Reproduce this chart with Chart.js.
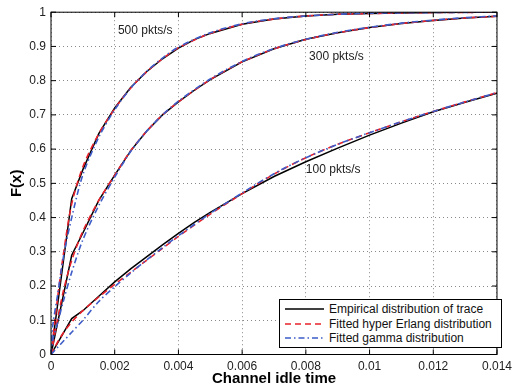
<!DOCTYPE html>
<html>
<head>
<meta charset="utf-8">
<script src="https://cdn.jsdelivr.net/npm/chart.js@4"></script>
<style>
  html, body { margin: 0; padding: 0; background: #fff; }
  #wrap { position: relative; width: 517px; height: 386px; }
  #legend { position: absolute; left: 279px; top: 299px; width: 221px; height: 47px;
    border: 1px solid #000; background: #fff; font: 12px "Liberation Sans", Arial, sans-serif; color: #111; }
  #legend .row { display: flex; align-items: center; height: 14.6px; margin-left: 5px; }
  #legend .row:first-child { margin-top: 2px; }
  #legend svg { width: 39px; height: 6px; margin-right: 5px; }
</style>
</head>
<body>
<div id="wrap">
  <canvas id="cdf" width="517" height="386"></canvas>
  <div id="legend"></div>
</div>
<script>
// ---- data ----
const seriesNames = ['Empirical distribution of trace', 'Fitted hyper Erlang distribution', 'Fitted gamma distribution'];
const rateLabels = ['500 pkts/s', '300 pkts/s', '100 pkts/s'];
const xTickLabels = ['0', '0.002', '0.004', '0.006', '0.008', '0.01', '0.012', '0.014'];
const yTickLabels = ['0', '0.1', '0.2', '0.3', '0.4', '0.5', '0.6', '0.7', '0.8', '0.9', '1'];

// empirical CDF samples (idle time in s)
const xEmp = [0, 0.00065, 0.001, 0.0015, 0.002, 0.0025, 0.003, 0.0035, 0.004, 0.0045, 0.005, 0.006, 0.007, 0.008, 0.009, 0.01, 0.011, 0.012, 0.013, 0.014];
const emp500 = [0, 0.455, 0.54, 0.645, 0.72, 0.78, 0.826, 0.864, 0.895, 0.92, 0.938, 0.965, 0.98, 0.989, 0.994, 0.996, 0.998, 0.999, 0.9995, 1.0];
const emp300 = [0, 0.29, 0.355, 0.45, 0.524, 0.595, 0.652, 0.70, 0.738, 0.772, 0.803, 0.855, 0.893, 0.921, 0.94, 0.955, 0.967, 0.976, 0.983, 0.988];
const emp100 = [0, 0.105, 0.128, 0.17, 0.212, 0.25, 0.285, 0.32, 0.354, 0.386, 0.415, 0.47, 0.52, 0.563, 0.603, 0.641, 0.676, 0.709, 0.737, 0.763];

// fitted CDFs
const xFit = [0, 0.00005, 0.0002, 0.0004, 0.00065, 0.001, 0.0015, 0.002, 0.0025, 0.003, 0.0035, 0.004, 0.005, 0.006, 0.007, 0.008, 0.009, 0.01, 0.011, 0.012, 0.013, 0.014];
const erl500 = [0, 0.04, 0.16, 0.3, 0.44, 0.548, 0.645, 0.718, 0.778, 0.826, 0.864, 0.896, 0.938, 0.965, 0.98, 0.989, 0.994, 0.996, 0.998, 0.999, 0.9995, 1.0];
const gam500 = [0, 0.08, 0.17, 0.29, 0.4, 0.525, 0.635, 0.715, 0.778, 0.827, 0.866, 0.898, 0.94, 0.966, 0.981, 0.989, 0.994, 0.997, 0.998, 0.999, 0.9995, 1.0];
const erl300 = [0, 0.025, 0.1, 0.19, 0.275, 0.36, 0.45, 0.524, 0.595, 0.652, 0.70, 0.738, 0.803, 0.855, 0.893, 0.92, 0.94, 0.955, 0.967, 0.976, 0.983, 0.988];
const gam300 = [0, 0.04, 0.09, 0.16, 0.24, 0.335, 0.435, 0.518, 0.593, 0.652, 0.70, 0.74, 0.805, 0.856, 0.894, 0.921, 0.941, 0.956, 0.968, 0.977, 0.984, 0.989];
const erl100 = [0, 0.008, 0.035, 0.065, 0.095, 0.128, 0.168, 0.205, 0.24, 0.275, 0.31, 0.345, 0.41, 0.47, 0.527, 0.575, 0.614, 0.648, 0.68, 0.71, 0.738, 0.765];
const gam100 = [0, 0.005, 0.02, 0.04, 0.065, 0.1, 0.155, 0.198, 0.238, 0.276, 0.312, 0.347, 0.412, 0.472, 0.528, 0.575, 0.614, 0.648, 0.68, 0.71, 0.738, 0.765];

// ---- styles ----
const FONT = '"Liberation Sans", Arial, sans-serif';
const STYLES = [
  { color: '#000000', dash: [], width: 1.5, order: 3, tension: 0 },
  { color: '#e8202a', dash: [6, 4], width: 1.6, order: 2, tension: 0.3 },
  { color: '#3d5cc8', dash: [6, 3, 1.5, 3], width: 1.6, order: 1, tension: 0.3 }
];
Chart.defaults.font.family = FONT;
Chart.defaults.color = '#222';

const pts = (xs, ys) => xs.map((x, i) => ({ x, y: ys[i] }));
function line(kind, xs, ys) {
  const s = STYLES[kind];
  return { label: seriesNames[kind], data: pts(xs, ys), borderColor: s.color, borderDash: s.dash,
    borderWidth: s.width, order: s.order, tension: s.tension, pointRadius: 0, fill: false };
}

const datasets = [
  line(0, xEmp, emp500), line(0, xEmp, emp300), line(0, xEmp, emp100),
  line(1, xFit, erl500), line(1, xFit, erl300), line(1, xFit, erl100),
  line(2, xFit, gam500), line(2, xFit, gam300), line(2, xFit, gam100)
];

// frame with inward ticks on all four sides + rate annotations
const framePlugin = {
  id: 'frame',
  afterDatasetsDraw(chart) {
    const { ctx, chartArea: a, scales: { x, y } } = chart;
    ctx.save();
    ctx.font = '12px ' + FONT;
    ctx.fillStyle = '#222';
    ctx.textBaseline = 'middle';
    const notes = [[0.0021, 0.947], [0.0081, 0.869], [0.008, 0.539]];
    notes.forEach((p, i) => ctx.fillText(rateLabels[i], x.getPixelForValue(p[0]), y.getPixelForValue(p[1])));
    ctx.strokeStyle = '#000';
    ctx.lineWidth = 1;
    ctx.setLineDash([]);
    ctx.strokeRect(a.left, a.top, a.right - a.left, a.bottom - a.top);
    ctx.beginPath();
    x.ticks.forEach(t => {
      const px = x.getPixelForValue(t.value);
      ctx.moveTo(px, a.bottom); ctx.lineTo(px, a.bottom - 5);
      ctx.moveTo(px, a.top); ctx.lineTo(px, a.top + 5);
    });
    y.ticks.forEach(t => {
      const py = y.getPixelForValue(t.value);
      ctx.moveTo(a.left, py); ctx.lineTo(a.left + 5, py);
      ctx.moveTo(a.right, py); ctx.lineTo(a.right - 5, py);
    });
    ctx.stroke();
    ctx.restore();
  }
};

const GRID = { color: '#8a8a8a', lineWidth: 1, drawTicks: false, tickLength: 0 };

const chart = new Chart(document.getElementById('cdf'), {
  type: 'line',
  data: { datasets },
  options: {
    responsive: false, animation: false, events: [],
    layout: { padding: { top: 12, right: 13, left: 0, bottom: 0 } },
    plugins: { legend: { display: false }, tooltip: { enabled: false } },
    scales: {
      x: {
        type: 'linear', min: 0, max: 0.014,
        grid: GRID, border: { display: false, dash: [1, 3] },
        ticks: { stepSize: 0.002, autoSkip: false, maxRotation: 0, padding: 5, font: { size: 12 },
          callback: (v, i) => xTickLabels[i] },
        title: { display: true, text: 'Channel idle time', color: '#000',
          font: { size: 15, weight: 'bold', lineHeight: 1 }, padding: { top: 0, bottom: 0 } },
        afterFit: s => { s.height = 31.5; }
      },
      y: {
        type: 'linear', min: 0, max: 1,
        grid: GRID, border: { display: false, dash: [1, 3] },
        ticks: { stepSize: 0.1, padding: 5, font: { size: 12 }, callback: (v, i) => yTickLabels[i] },
        title: { display: true, text: 'F(x)', color: '#000',
          font: { size: 15, weight: 'bold' }, padding: { top: 8, bottom: 0 } },
        afterFit: s => { s.width = 51; }
      }
    }
  },
  plugins: [framePlugin]
});

// legend box inside the plot area
const legend = document.getElementById('legend');
STYLES.forEach((s, i) => {
  const row = document.createElement('div');
  row.className = 'row';
  row.innerHTML = `<svg viewBox="0 0 39 6"><line x1="0" y1="3" x2="39" y2="3" stroke="${s.color}" stroke-width="1.6" stroke-dasharray="${s.dash.join(' ')}"/></svg><span>${seriesNames[i]}</span>`;
  legend.appendChild(row);
});
</script>
</body>
</html>
